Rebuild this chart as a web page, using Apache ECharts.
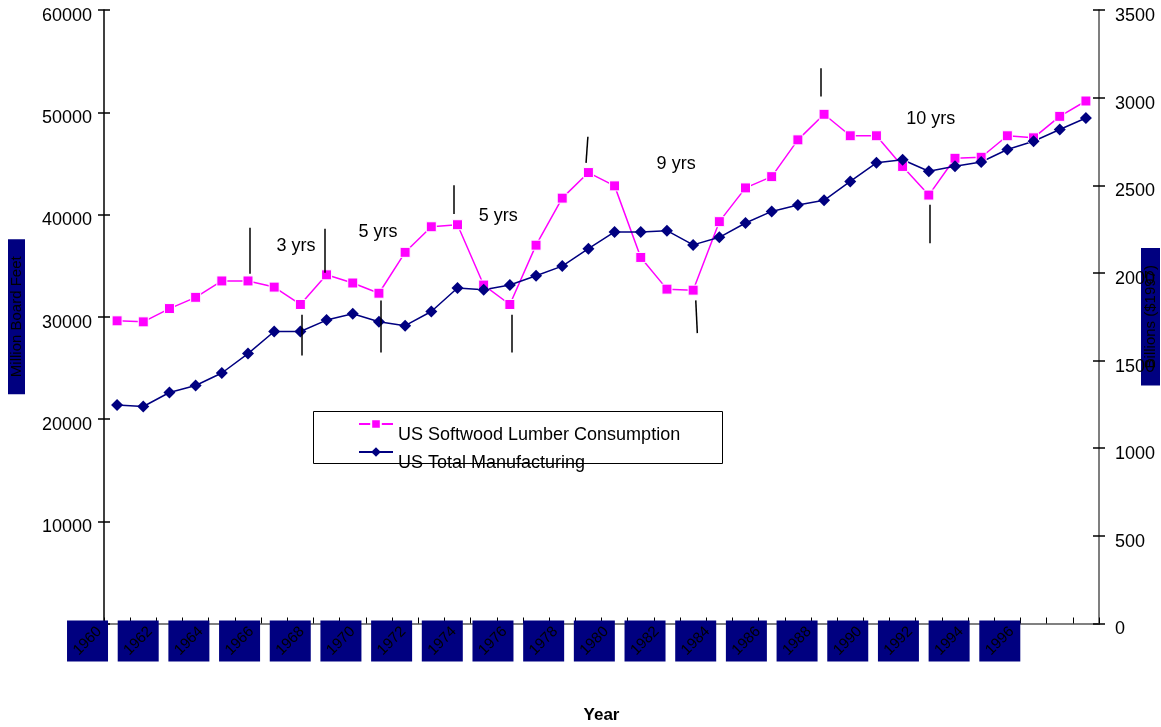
<!DOCTYPE html>
<html>
<head>
<meta charset="utf-8">
<script src="https://cdn.jsdelivr.net/npm/echarts@6/dist/echarts.min.js"></script>
<style>
  html, body { margin: 0; padding: 0; background: #fff; }
  #chart { width: 1161px; height: 727px; }
</style>
</head>
<body>
<div id="chart"></div>
<script>
// Years on the category axis
const years = ['1960','1961','1962','1963','1964','1965','1966','1967','1968','1969',
  '1970','1971','1972','1973','1974','1975','1976','1977','1978','1979',
  '1980','1981','1982','1983','1984','1985','1986','1987','1988','1989',
  '1990','1991','1992','1993','1994','1995','1996','1997'];

// US softwood lumber consumption, million board feet (left axis)
const lumber = [29600, 29500, 30800, 31900, 33500, 33500, 32900, 31200, 34100, 33300,
  32300, 36300, 38800, 39000, 33100, 31200, 37000, 41600, 44100, 42800,
  35800, 32700, 32600, 39300, 42600, 43700, 47300, 49800, 47700, 47700,
  44700, 41900, 45500, 45600, 47700, 47500, 49600, 51100];

// US total manufacturing, billions of 1997 dollars (right axis)
const manufacturing = [1246, 1238, 1318, 1358, 1429, 1540, 1666, 1666, 1731, 1767,
  1721, 1699, 1780, 1914, 1904, 1931, 1984, 2039, 2138, 2234,
  2234, 2241, 2160, 2203, 2285, 2351, 2388, 2414, 2522, 2628,
  2646, 2580, 2608, 2633, 2704, 2751, 2818, 2884];

// Years that get a boxed label under the axis
const yearLabels = ['1960','1962','1964','1966','1968','1970','1972','1974','1976','1978',
  '1980','1982','1984','1986','1988','1990','1992','1994','1996'];

// Peak / trough markers: [yearTop, valueTop, yearBottom, valueBottom] in lumber units
const cycleMarks = [
  [1965.05, 38700, 1965.05, 34200],
  [1967.07, 30200, 1967.07, 26200],
  [1967.94, 38600, 1967.94, 34300],
  [1970.07, 31600, 1970.07, 26500],
  [1972.87, 42850, 1972.87, 40050],
  [1975.08, 30200, 1975.08, 26500],
  [1977.98, 47600, 1977.91, 45050],
  [1982.10, 31600, 1982.16, 28400],
  [1986.87, 54300, 1986.87, 51550],
  [1991.02, 40950, 1991.02, 37200]
];

// Cycle length notes: [text, year, lumber value]
const cycleLabels = [
  ['3 yrs', 1966.83, 36950],
  ['5 yrs', 1969.96, 38320],
  ['5 yrs', 1974.56, 39820],
  ['9 yrs', 1981.35, 44980],
  ['10 yrs', 1991.07, 49350]
];

const FONT = '"Liberation Sans", Arial, Helvetica, sans-serif';
const NAVY = '#000080';
const PINK = '#FF00FF';

const chart = echarts.init(document.getElementById('chart'), null, { renderer: 'canvas' });

// tick values sit slightly below their tick marks
const tickText = {
  v: { fontFamily: FONT, fontSize: 18, color: '#000', lineHeight: 18, padding: [12, 0, 0, 0] }
};

function sideAxis(position, max, interval, extra) {
  return Object.assign({
    type: 'value',
    position: position,
    min: 0,
    max: max,
    interval: interval,
    nameMoveOverlap: false,
    splitLine: { show: false }
  }, extra);
}

const option = {
  animation: false,
  backgroundColor: '#fff',
  textStyle: { fontFamily: FONT },
  grid: {
    left: 104, right: 62, top: 10, bottom: 103.5,
    containLabel: false,
    outerBoundsMode: 'none'
  },
  xAxis: [
    {
      type: 'category',
      data: years,
      boundaryGap: true,
      position: 'bottom',
      nameMoveOverlap: false,
      axisLine: { show: true, lineStyle: { color: '#808080', width: 2 } },
      axisTick: { show: true, inside: true, length: 6, interval: 0, lineStyle: { color: '#000', width: 1 } },
      axisLabel: { show: false },
      splitLine: { show: false },
      name: 'Year',
      nameLocation: 'middle',
      nameGap: 83,
      nameTextStyle: { fontFamily: FONT, fontSize: 17, fontWeight: 'bold', color: '#000' }
    },
    {
      // continuous year scale for the annotations; its line closes the plot on top
      type: 'value',
      position: 'top',
      min: 1959.5,
      max: 1997.5,
      axisLine: { show: true, lineStyle: { color: '#808080', width: 1.5 } },
      axisTick: { show: false },
      axisLabel: { show: false },
      splitLine: { show: false }
    }
  ],
  yAxis: [
    sideAxis('left', 60000, 10000, {
      axisLine: { show: true, lineStyle: { color: '#000', width: 1.5 } },
      axisTick: { show: true, length: 6, lineStyle: { color: '#000', width: 1.5 } },
      axisLabel: {
        color: '#000', fontFamily: FONT, fontSize: 18, margin: 12,
        formatter: function (v) { return v === 0 ? '' : '{v|' + v + '}'; },
        rich: tickText
      },
      name: 'Million Board Feet',
      nameLocation: 'middle',
      nameRotate: 90,
      nameGap: 79,
      nameTextStyle: {
        fontFamily: FONT, fontSize: 15, color: '#000',
        backgroundColor: NAVY, padding: [1, 17, 1, 17]
      }
    }),
    sideAxis('right', 3500, 500, {
      axisLine: { show: true, lineStyle: { color: '#555', width: 1.5 } },
      axisTick: { show: true, length: 6, lineStyle: { color: '#000', width: 1.5 } },
      axisLabel: {
        color: '#000', fontFamily: FONT, fontSize: 18, margin: 16,
        formatter: function (v) { return '{v|' + v + '}'; },
        rich: tickText
      },
      name: 'Billions ($1997)',
      nameLocation: 'middle',
      nameRotate: 90,
      nameGap: 42,
      nameTextStyle: {
        fontFamily: FONT, fontSize: 15, color: '#000',
        backgroundColor: NAVY, padding: [2, 17, 2, 17]
      }
    }),
    // inner halves of the crossing tick marks
    sideAxis('left', 60000, 10000, {
      axisLine: { show: false },
      axisTick: { show: true, inside: true, length: 6, lineStyle: { color: '#000', width: 1.5 } },
      axisLabel: { show: false }
    }),
    sideAxis('right', 3500, 500, {
      axisLine: { show: false },
      axisTick: { show: true, inside: true, length: 6, lineStyle: { color: '#000', width: 1.5 } },
      axisLabel: { show: false }
    })
  ],
  legend: {
    show: true,
    orient: 'vertical',
    left: 358,
    top: 404,
    padding: 0,
    itemWidth: 34,
    itemHeight: 12,
    itemGap: -12,
    data: ['US Softwood Lumber Consumption', 'US Total Manufacturing'],
    formatter: function (name) { return '{t|' + name + '}'; },
    textStyle: {
      fontFamily: FONT, fontSize: 18, color: '#000',
      rich: {
        t: {
          fontFamily: FONT, fontSize: 18, color: '#000',
          lineHeight: 18, padding: [22, 0, 0, 0]
        }
      }
    },
    z: 5
  },
  graphic: [
    {
      type: 'rect',
      z: 3,
      shape: { x: 313.5, y: 411.5, width: 409, height: 52 },
      style: { fill: '#fff', stroke: '#000', lineWidth: 1 }
    }
  ],
  series: [
    {
      name: 'US Softwood Lumber Consumption',
      type: 'line',
      xAxisIndex: 0,
      yAxisIndex: 0,
      data: lumber,
      symbol: 'rect',
      symbolSize: 10,
      showAllSymbol: true,
      lineStyle: { color: PINK, width: 1.5 },
      itemStyle: { color: PINK, borderColor: '#ffffff', borderWidth: 1 },
      z: 3
    },
    {
      name: 'US Total Manufacturing',
      type: 'line',
      xAxisIndex: 0,
      yAxisIndex: 1,
      data: manufacturing,
      symbol: 'diamond',
      symbolSize: 12,
      showAllSymbol: true,
      lineStyle: { color: NAVY, width: 1.5 },
      itemStyle: { color: NAVY },
      z: 3
    },
    {
      name: 'cycleMarks',
      type: 'lines',
      coordinateSystem: 'cartesian2d',
      xAxisIndex: 1,
      yAxisIndex: 0,
      polyline: false,
      silent: true,
      lineStyle: { color: '#000', width: 1.5, opacity: 1 },
      data: cycleMarks.map(function (m) {
        return { coords: [[m[0], m[1]], [m[2], m[3]]] };
      }),
      z: 4
    },
    {
      name: 'cycleLabels',
      type: 'custom',
      xAxisIndex: 1,
      yAxisIndex: 0,
      silent: true,
      clip: false,
      data: cycleLabels.map(function (c) { return [c[1], c[2]]; }),
      renderItem: function (params, api) {
        const p = api.coord([api.value(0), api.value(1)]);
        return {
          type: 'text',
          x: p[0],
          y: p[1],
          style: {
            text: cycleLabels[params.dataIndex][0],
            fontFamily: FONT,
            fontSize: 18,
            fill: '#000',
            align: 'center',
            verticalAlign: 'middle'
          }
        };
      },
      z: 4
    },
    {
      // boxed year labels under the category axis
      name: 'yearLabels',
      type: 'custom',
      xAxisIndex: 0,
      yAxisIndex: 0,
      silent: true,
      clip: false,
      data: yearLabels.map(function (y) { return [years.indexOf(y), 0]; }),
      renderItem: function (params, api) {
        const p = api.coord([api.value(0), 0]);
        const cx = 0.9678 * p[0] - 25.8;
        const top = p[1] - 3;
        return {
          type: 'group',
          children: [
            {
              type: 'rect',
              shape: { x: cx - 20.5, y: top, width: 41, height: 41 },
              style: { fill: NAVY }
            },
            {
              type: 'text',
              x: cx,
              y: top + 20.5,
              rotation: Math.PI / 4,
              style: {
                text: yearLabels[params.dataIndex],
                fontFamily: FONT,
                fontSize: 15,
                fill: '#000',
                align: 'center',
                verticalAlign: 'middle'
              }
            }
          ]
        };
      },
      z: 6
    }
  ]
};

chart.setOption(option);
</script>
</body>
</html>
